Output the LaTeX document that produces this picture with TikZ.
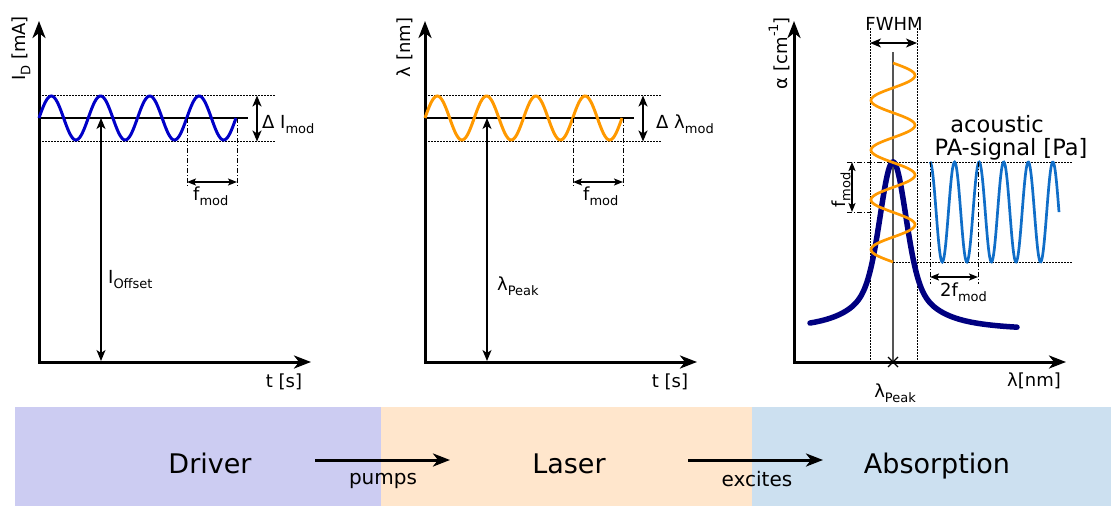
\documentclass[tikz,border=0pt]{standalone}
\usepackage{fontspec}
\setmainfont{DejaVu Sans}
\usetikzlibrary{arrows.meta}
\newcommand\lsub[1]{\raisebox{-0.3em}{\fontsize{13}{13}\selectfont #1}}
\newcommand\lsup[1]{\raisebox{0.5em}{\fontsize{13}{13}\selectfont #1}}
\definecolor{drvcol}{RGB}{204,204,242}
\definecolor{lascol}{RGB}{255,230,204}
\definecolor{abscol}{RGB}{204,224,240}
\definecolor{sigblue}{RGB}{0,0,200}
\definecolor{sigorange}{RGB}{255,153,0}
\definecolor{peaknavy}{RGB}{0,0,128}
\definecolor{acblue}{RGB}{16,110,200}
\definecolor{midgray}{RGB}{85,85,85}
\begin{document}
\begin{tikzpicture}[x=1pt,y=-1pt,
  axisline/.style={line width=3pt,line join=miter,{Stealth[length=17pt,width=13pt,inset=5pt]}-{Stealth[length=17pt,width=13pt,inset=5pt]}},
  flow/.style={line width=3pt,-{Stealth[length=17pt,width=13pt,inset=5pt]}},
  dimarrow/.style={line width=1.5pt,{Stealth[length=9pt,width=7pt,inset=2pt]}-{Stealth[length=9pt,width=7pt,inset=2pt]}},
  bigdim/.style={line width=2pt,{Stealth[length=11pt,width=9pt,inset=3pt]}-{Stealth[length=11pt,width=9pt,inset=3pt]}},
  dotline/.style={line width=1pt,dash pattern=on 1.5pt off 1.5pt},
  ddline/.style={line width=1pt,dash pattern=on 5pt off 2pt on 1pt off 2pt},
  centerline/.style={line width=1.2pt},
  wave/.style={line width=3pt,smooth},
  lab/.style={font=\fontsize{18}{20}\selectfont,inner sep=0pt,anchor=base},
  labw/.style={lab,anchor=base west},
  big/.style={font=\fontsize{27}{30}\selectfont,inner sep=0pt,anchor=base},
  mid/.style={font=\fontsize{20}{22}\selectfont,inner sep=0pt,anchor=base},
  ac/.style={font=\fontsize{22.5}{25}\selectfont,inner sep=0pt,anchor=base}]
\path[use as bounding box] (0,0) rectangle (1111,506);

% ---------- bottom bar ----------
\fill[drvcol] (15,407) rectangle (381,506);
\fill[lascol] (381,407) rectangle (752,506);
\fill[abscol] (752,407) rectangle (1111,506);
\node[big] (drv) at (210,473) {Driver};
\node[big] (las) at (569,473) {Laser};
\node[big] (abs) at (937,473) {Absorption};
\coordinate (pa) at (315,460); \coordinate (pb) at (450,460);
\coordinate (ea) at (688,460); \coordinate (eb) at (823,460);
\draw[flow] (pa) -- (pb);
\draw[flow] (ea) -- (eb);
\node[mid] (pumps) at (383,484) {pumps};
\node[mid] (excites) at (757,486) {excites};

% ---------- panel 1: driver current ----------
\coordinate (a1t) at (39,21); \coordinate (a1o) at (39,362); \coordinate (a1r) at (311,362);
\draw[axisline] (a1t) -- (a1o) -- (a1r);
\draw[centerline] (39,118) -- (248,118);
\draw[dotline] (39,95.5) -- (275,95.5);
\draw[dotline] (39,141.5) -- (275,141.5);
\draw[wave,sigblue] plot[domain=39:236,samples=160] (\x,{118-22*sin(7.3096*(\x-39))});
\draw[ddline] (187,118) -- (187,187);
\draw[ddline] (237,118) -- (237,187);
\coordinate (f1a) at (187,182); \coordinate (f1b) at (237,182);
\draw[dimarrow] (f1a) -- (f1b);
\coordinate (d1a) at (257,95.5); \coordinate (d1b) at (257,141.5);
\draw[bigdim] (d1a) -- (d1b);
\coordinate (o1a) at (101,118); \coordinate (o1b) at (101,361);
\draw[bigdim,line width=1.5pt] (o1a) -- (o1b);
\node[lab,rotate=90] (ylab1) at (25,48.5) {I\lsub{D} [mA]};
\node[lab] (tlab1) at (284,387) {t [s]};
\node[labw] (dI) at (262,128) {Δ I\lsub{mod}};
\node[labw] (fm1) at (193,200) {f\lsub{mod}};
\node[labw] (ioff) at (108,283) {I\lsub{Offset}};

% ---------- panel 2: laser wavelength ----------
\coordinate (a2t) at (425,21); \coordinate (a2o) at (425,362); \coordinate (a2r) at (697,362);
\draw[axisline] (a2t) -- (a2o) -- (a2r);
\draw[centerline] (425,118) -- (634,118);
\draw[dotline] (425,95.5) -- (661,95.5);
\draw[dotline] (425,141.5) -- (661,141.5);
\draw[wave,sigorange] plot[domain=425:622,samples=160] (\x,{118-22*sin(7.3096*(\x-425))});
\draw[ddline] (573,118) -- (573,187);
\draw[ddline] (623,118) -- (623,187);
\coordinate (f2a) at (573,182); \coordinate (f2b) at (623,182);
\draw[dimarrow] (f2a) -- (f2b);
\coordinate (d2a) at (643,95.5); \coordinate (d2b) at (643,141.5);
\draw[bigdim] (d2a) -- (d2b);
\coordinate (o2a) at (487,118); \coordinate (o2b) at (487,361);
\draw[bigdim,line width=1.5pt] (o2a) -- (o2b);
\node[lab,rotate=90] (ylab2) at (410,47.5) {λ [nm]};
\node[lab] (tlab2) at (670,387) {t [s]};
\node[labw] (dL) at (656,128) {Δ λ\lsub{mod}};
\node[labw] (fm2) at (583,200) {f\lsub{mod}};
\node[labw] (lpk) at (497,290) {λ\lsub{Peak}};

% ---------- panel 3: absorption ----------
\coordinate (a3t) at (794,21); \coordinate (a3o) at (794,362); \coordinate (a3r) at (1066,362);
\draw[axisline] (a3t) -- (a3o) -- (a3r);
\draw[dotline] (870,28) -- (870,362);
\draw[dotline] (917,28) -- (917,362);
\coordinate (fw1) at (870,43); \coordinate (fw2) at (917,43);
\draw[bigdim,line width=1.5pt] (fw1) -- (fw2);
\node[lab] (fwhm) at (894,30) {FWHM};
\draw[line width=1.3pt,midgray] (893,52) -- (893,362);
\draw[line width=1.3pt] (888,357) -- (898,367) (888,367) -- (898,357);
% guide lines
\draw[ddline] (847,162) -- (893,162);
\draw[dotline] (893,162) -- (1073,162);
\draw[ddline] (847,212) -- (872,212);
\draw[dotline] (893,262) -- (1073,262);
\coordinate (fm3a) at (852,162); \coordinate (fm3b) at (852,212);
\draw[dimarrow] (fm3a) -- (fm3b);
\node[lab,rotate=90] (fm3) at (845,190) {f\lsub{mod}};
% absorption line
\draw[line width=5.5pt,peaknavy,line cap=round] plot[domain=810:1017,samples=220,smooth] (\x,{331-100*exp(-min(30,((\x-893)/17)^2))-69/(1+((\x-893)/30)^2)});
% modulated wavelength
\draw[wave,sigorange,line width=2.7pt] plot[domain=63:262,samples=160] ({893+22*sin(7.2362*(\x-63))},\x);
% acoustic signal
\draw[wave,acblue,line width=2.7pt] plot[domain=930:1059,samples=200] (\x,{212-50*cos(14.652*(\x-930))});
\draw[ddline] (930,162) -- (930,284);
\draw[ddline] (978,162) -- (978,284);
\coordinate (tf1) at (930,277); \coordinate (tf2) at (978,277);
\draw[dimarrow] (tf1) -- (tf2);
\node[labw] (tfm) at (940,296) {2f\lsub{mod}};
\node[ac] (acou) at (997,132) {acoustic};
\node[ac] (pasig) at (1011,155) {PA-signal [Pa]};
\node[lab,rotate=90] (ylab3) at (787,53) {α [cm\lsup{-1}]};
\node[lab] (xlab3) at (1034,386) {λ[nm]};
\node[lab] (lpk3) at (895,397) {λ\lsub{Peak}};
\end{tikzpicture}
\end{document}
